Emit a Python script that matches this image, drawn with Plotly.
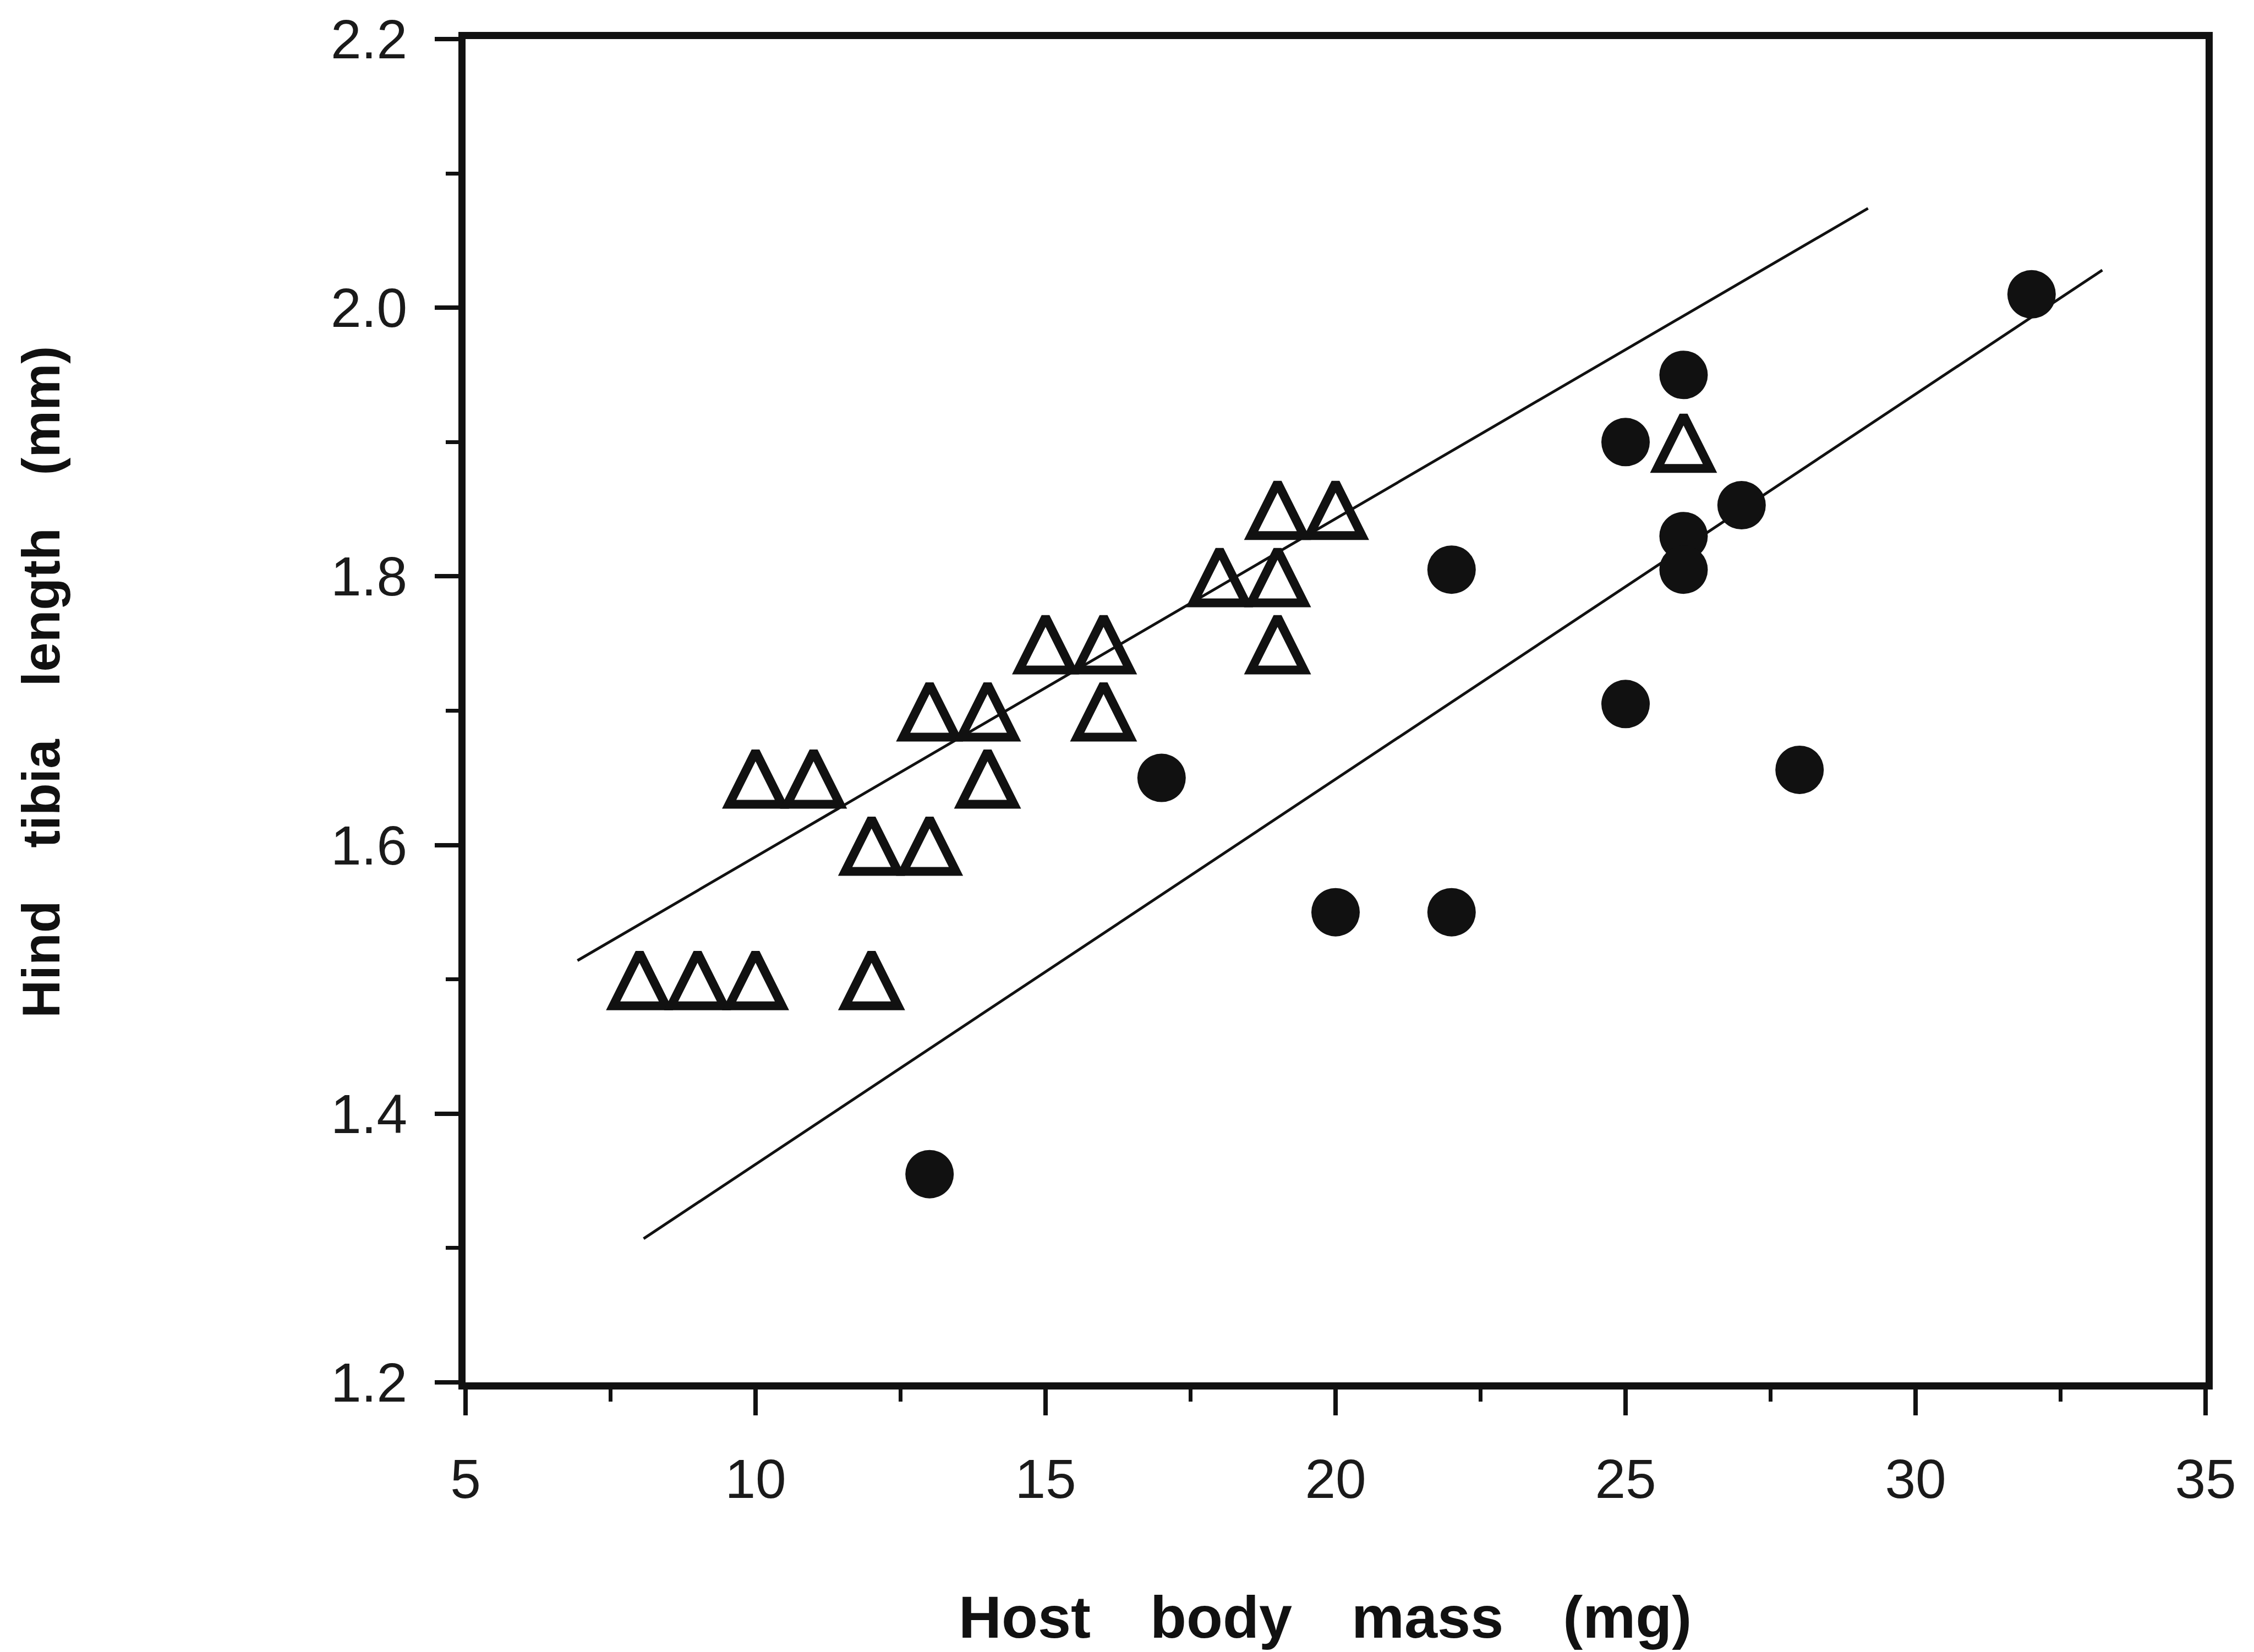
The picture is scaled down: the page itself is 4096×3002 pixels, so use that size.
import plotly.graph_objects as go

# ---- data ----
# open triangles
tri_x = [8, 9, 10, 12, 10, 11, 12, 13, 13, 14, 14, 15, 16, 16, 18, 19, 19, 19, 20, 26]
tri_y = [1.50, 1.50, 1.50, 1.50, 1.65, 1.65, 1.60, 1.60, 1.70, 1.70, 1.65, 1.75, 1.75, 1.70,
         1.80, 1.80, 1.75, 1.85, 1.85, 1.90]

# filled circles
dot_x = [13, 17, 20, 22, 22, 25, 25, 26, 26, 26, 27, 28, 32]
dot_y = [1.355, 1.65, 1.55, 1.55, 1.805, 1.705, 1.90, 1.95, 1.83, 1.805, 1.853, 1.656, 2.01]

# fitted lines (end points)
fit_tri_x = [6.93, 29.18]
fit_tri_y = [1.514, 2.074]
fit_dot_x = [8.07, 33.22]
fit_dot_y = [1.307, 2.028]

x_ticks = [5, 10, 15, 20, 25, 30, 35]
y_ticks = [1.2, 1.4, 1.6, 1.8, 2.0, 2.2]
y_ticktext = ["1.2", "1.4", "1.6", "1.8", "2.0", "2.2"]

x_title = "Host\u2003body\u2003mass\u2003(mg)"
y_title = "Hind\u2003tibia\u2003length\u2003(mm)"

W, H = 4096, 3002
ML, MR, MT, MB = 846, 88, 71, 490

TRI = 96

fig = go.Figure()

fig.add_trace(go.Scatter(x=fit_tri_x, y=fit_tri_y, mode="lines",
                         line=dict(color="#111111", width=5), showlegend=False))
fig.add_trace(go.Scatter(x=fit_dot_x, y=fit_dot_y, mode="lines",
                         line=dict(color="#111111", width=5), showlegend=False))

fig.add_trace(go.Scatter(
    x=tri_x, y=tri_y, mode="markers", showlegend=False,
    marker=dict(symbol="arrow-down-open", angle=180, size=TRI, color="#111111",
                standoff=TRI / 2, line=dict(width=16, color="#111111")),
))
fig.add_trace(go.Scatter(
    x=dot_x, y=dot_y, mode="markers", showlegend=False,
    marker=dict(symbol="circle", size=88, color="#111111", line=dict(width=0)),
))

tickfont = dict(family="Liberation Sans, Arial, sans-serif", size=100, color="#1a1a1a")
xtitlefont = dict(family="Liberation Sans, Arial, sans-serif", size=108, color="#111111", weight="bold")
ytitlefont = dict(family="Liberation Sans, Arial, sans-serif", size=96, color="#111111", weight="bold")

fig.update_xaxes(
    range=[5, 35], tickmode="array", tickvals=x_ticks, ticktext=[str(v) for v in x_ticks],
    ticks="outside", ticklen=47, tickwidth=8, tickcolor="#111111",
    minor=dict(dtick=2.5, tick0=5, ticks="outside", ticklen=22, tickwidth=7, tickcolor="#111111"),
    showline=True, linewidth=13, linecolor="#111111", mirror=True,
    showgrid=False, zeroline=False, tickfont=tickfont, ticklabelstandoff=30,
)
fig.update_yaxes(
    range=[1.2, 2.2], tickmode="array", tickvals=y_ticks, ticktext=y_ticktext,
    ticks="outside", ticklen=43, tickwidth=8, tickcolor="#111111",
    minor=dict(dtick=0.1, tick0=1.2, ticks="outside", ticklen=23, tickwidth=7, tickcolor="#111111"),
    showline=True, linewidth=13, linecolor="#111111", mirror=True,
    showgrid=False, zeroline=False, tickfont=tickfont, ticklabelstandoff=30,
)

pw = W - ML - MR
ph = H - MT - MB
fig.add_annotation(text=x_title, xref="paper", yref="paper",
                   x=(2408 - ML) / pw, y=(H - MB - 2938) / ph,
                   xanchor="center", yanchor="middle", showarrow=False, font=xtitlefont)
fig.add_annotation(text=y_title, xref="paper", yref="paper",
                   x=(74 - ML) / pw, y=(H - MB - 1240) / ph, textangle=-90,
                   xanchor="center", yanchor="middle", showarrow=False, font=ytitlefont)

fig.update_layout(
    width=W, height=H, autosize=False,
    margin=dict(l=ML, r=MR, t=MT, b=MB, pad=0),
    paper_bgcolor="white", plot_bgcolor="white",
    showlegend=False,
)

fig.write_html("out.html", include_plotlyjs=True, config={"displayModeBar": False})
